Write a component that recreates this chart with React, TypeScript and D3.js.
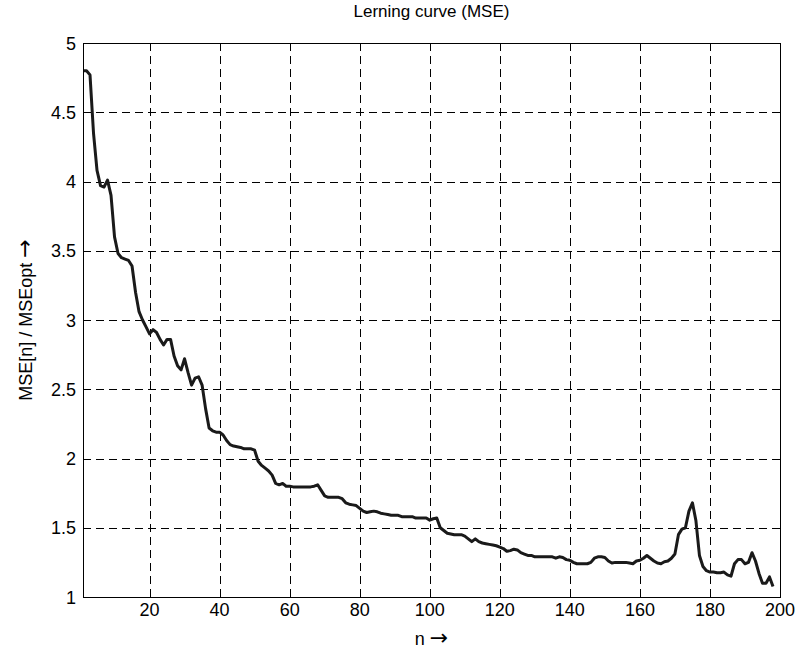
import { useEffect, useRef } from 'react'
import * as d3 from 'd3'

const width = 797
const height = 652
const margin = { top: 43, right: 17, bottom: 55, left: 83 }
const innerWidth = width - margin.left - margin.right
const innerHeight = height - margin.top - margin.bottom

// MSE[n] / MSEopt, n = 1 .. 198
const mse = [
  4.80, 4.80, 4.77, 4.35, 4.08, 3.97, 3.96, 4.01, 3.90, 3.60,
  3.48, 3.45, 3.44, 3.43, 3.39, 3.20, 3.06, 3.00, 2.95, 2.90,
  2.93, 2.91, 2.86, 2.82, 2.86, 2.86, 2.74, 2.67, 2.64, 2.72,
  2.62, 2.53, 2.58, 2.59, 2.53, 2.36, 2.22, 2.20, 2.19, 2.19,
  2.17, 2.13, 2.10, 2.09, 2.085, 2.08, 2.07, 2.07, 2.07, 2.06,
  1.98, 1.95, 1.93, 1.91, 1.88, 1.82, 1.81, 1.82, 1.80, 1.80,
  1.795, 1.795, 1.795, 1.795, 1.795, 1.795, 1.80, 1.81, 1.77, 1.73,
  1.72, 1.72, 1.72, 1.72, 1.71, 1.68, 1.67, 1.665, 1.66, 1.64,
  1.62, 1.61, 1.615, 1.62, 1.615, 1.605, 1.60, 1.595, 1.59, 1.59,
  1.59, 1.58, 1.58, 1.58, 1.58, 1.57, 1.57, 1.57, 1.57, 1.555,
  1.565, 1.57, 1.50, 1.48, 1.46, 1.455, 1.45, 1.45, 1.45, 1.44,
  1.42, 1.40, 1.42, 1.40, 1.39, 1.385, 1.38, 1.375, 1.37, 1.36,
  1.35, 1.33, 1.335, 1.345, 1.34, 1.32, 1.31, 1.30, 1.30, 1.29,
  1.29, 1.29, 1.29, 1.29, 1.29, 1.28, 1.29, 1.285, 1.27, 1.265,
  1.25, 1.24, 1.24, 1.24, 1.24, 1.25, 1.28, 1.29, 1.29, 1.285,
  1.26, 1.245, 1.25, 1.25, 1.25, 1.25, 1.245, 1.24, 1.26, 1.265,
  1.28, 1.30, 1.28, 1.26, 1.245, 1.24, 1.255, 1.26, 1.28, 1.31,
  1.45, 1.49, 1.50, 1.62, 1.68, 1.55, 1.30, 1.22, 1.19, 1.18,
  1.18, 1.175, 1.175, 1.18, 1.16, 1.15, 1.24, 1.27, 1.27, 1.24,
  1.25, 1.32, 1.26, 1.17, 1.10, 1.10, 1.145, 1.075
]
const xTicks = [20, 40, 60, 80, 100, 120, 140, 160, 180, 200]
const yTicks = [1, 1.5, 2, 2.5, 3, 3.5, 4, 4.5, 5]

const font = '"Liberation Sans", Arial, Helvetica, sans-serif'
const arrowFont = '"DejaVu Sans", sans-serif'

const App = () => {
  const svgRef = useRef<SVGSVGElement>(null)

  useEffect(() => {
    const svg = d3.select(svgRef.current)
    svg.selectAll('*').remove()

    const x = d3.scaleLinear().domain([1, 200]).range([0, innerWidth])
    const y = d3.scaleLinear().domain([1, 5]).range([innerHeight, 0])

    const g = svg.append('g').attr('transform', `translate(${margin.left},${margin.top})`)

    // dashed grid
    g.selectAll('.vgrid')
      .data(xTicks.slice(0, -1))
      .join('line')
      .attr('x1', d => Math.round(x(d)) + 0.5)
      .attr('x2', d => Math.round(x(d)) + 0.5)
      .attr('y1', 0)
      .attr('y2', innerHeight)
      .attr('stroke', '#000')
      .attr('stroke-dasharray', '8,5')

    g.selectAll('.hgrid')
      .data(yTicks.slice(1, -1))
      .join('line')
      .attr('x1', 0)
      .attr('x2', innerWidth)
      .attr('y1', d => Math.round(y(d)) + 0.5)
      .attr('y2', d => Math.round(y(d)) + 0.5)
      .attr('stroke', '#000')
      .attr('stroke-dasharray', '8,5')

    // inward ticks on all four sides
    const tl = 5
    xTicks.forEach(t => {
      const px = Math.round(x(t)) + 0.5
      g.append('line').attr('x1', px).attr('x2', px).attr('y1', innerHeight).attr('y2', innerHeight - tl).attr('stroke', '#000')
      g.append('line').attr('x1', px).attr('x2', px).attr('y1', 0).attr('y2', tl).attr('stroke', '#000')
    })
    yTicks.forEach(t => {
      const py = Math.round(y(t)) + 0.5
      g.append('line').attr('x1', 0).attr('x2', tl).attr('y1', py).attr('y2', py).attr('stroke', '#000')
      g.append('line').attr('x1', innerWidth).attr('x2', innerWidth - tl).attr('y1', py).attr('y2', py).attr('stroke', '#000')
    })

    // the curve
    const line = d3.line<number>()
      .x((_, i) => x(i + 1))
      .y(d => y(d))
    g.append('path')
      .datum(mse)
      .attr('d', line)
      .attr('fill', 'none')
      .attr('stroke', '#1a1a1a')
      .attr('stroke-width', 3)
      .attr('stroke-linejoin', 'round')

    // box
    g.append('rect')
      .attr('x', 0.5)
      .attr('y', 0.5)
      .attr('width', innerWidth)
      .attr('height', innerHeight)
      .attr('fill', 'none')
      .attr('stroke', '#000')

    // tick labels
    g.selectAll('.xlab')
      .data(xTicks)
      .join('text')
      .attr('x', d => x(d))
      .attr('y', innerHeight + 19)
      .attr('text-anchor', 'middle')
      .attr('font-family', font)
      .attr('font-size', 18)
      .text(d => d)

    g.selectAll('.ylab')
      .data(yTicks)
      .join('text')
      .attr('x', -7)
      .attr('y', d => y(d) + 6.5)
      .attr('text-anchor', 'end')
      .attr('font-family', font)
      .attr('font-size', 18)
      .text(d => d)

    // titles
    svg.append('text')
      .attr('x', margin.left + innerWidth / 2)
      .attr('y', 17)
      .attr('text-anchor', 'middle')
      .attr('font-family', font)
      .attr('font-size', 17)
      .text('Lerning curve (MSE)')

    const xl = svg.append('text')
      .attr('x', margin.left + innerWidth / 2)
      .attr('y', 645)
      .attr('text-anchor', 'middle')
      .attr('font-family', font)
      .attr('font-size', 18)
    xl.append('tspan').text('n ')
    xl.append('tspan').attr('font-family', arrowFont).attr('font-size', 22).text('\u2192')

    const yl = svg.append('text')
      .attr('transform', `translate(32,${margin.top + innerHeight / 2}) rotate(-90)`)
      .attr('text-anchor', 'middle')
      .attr('font-family', font)
      .attr('font-size', 18)
    yl.append('tspan').text('MSE[n] / MSEopt ')
    yl.append('tspan').attr('font-family', arrowFont).attr('font-size', 22).text('\u2192')
  }, [])

  return (
    <svg
      ref={svgRef}
      width={width}
      height={height}
      style={{ position: 'absolute', left: 0, top: 0, background: '#fff' }}
    />
  )
}

export default App
